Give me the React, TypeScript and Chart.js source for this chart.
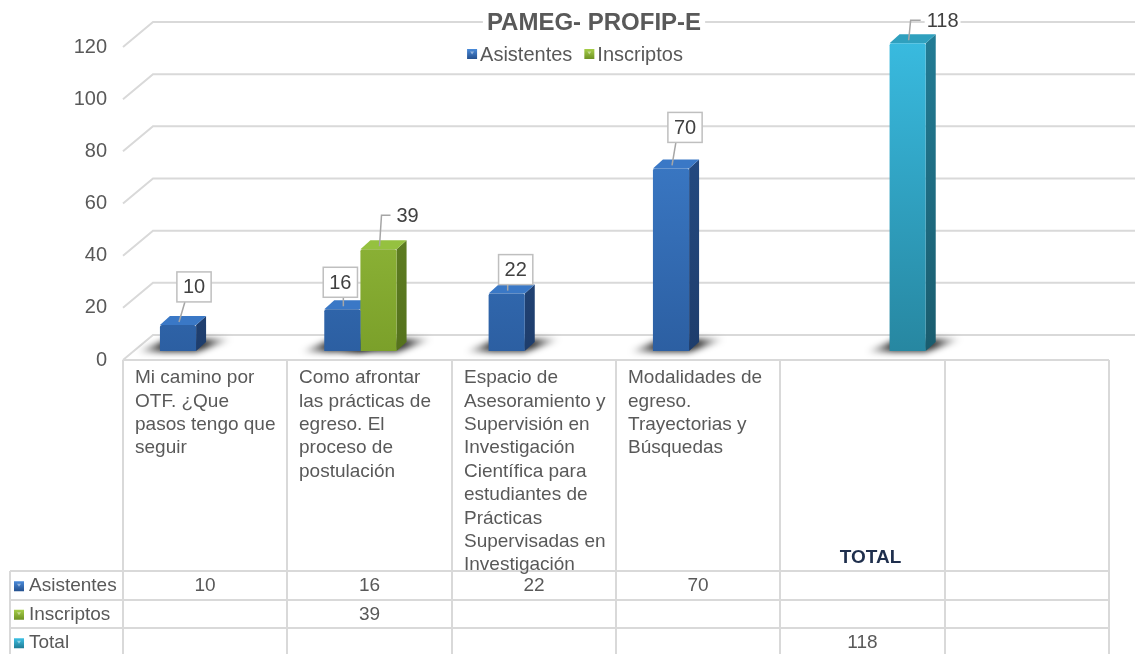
import React, { useEffect, useRef } from "react";
import { Chart, registerables } from "chart.js";

Chart.register(...registerables);

// ---------------- data ----------------
const TITLE = "PAMEG- PROFIP-E";
const SERIES_NAMES = ["Asistentes", "Inscriptos", "Total"];
const CATEGORIES: string[][] = [
  ["Mi camino por", "OTF. ¿Que", "pasos tengo que", "seguir"],
  ["Como afrontar", "las prácticas de", "egreso. El", "proceso de", "postulación"],
  [
    "Espacio de",
    "Asesoramiento y",
    "Supervisión en",
    "Investigación",
    "Científica para",
    "estudiantes de",
    "Prácticas",
    "Supervisadas en",
    "Investigación",
  ],
  ["Modalidades de", "egreso.", "Trayectorias y", "Búsquedas"],
  ["TOTAL"],
  [""],
];
const ASISTENTES: (number | null)[] = [10, 16, 22, 70, null, null];
const INSCRIPTOS: (number | null)[] = [null, 39, null, null, null, null];
const TOTAL: (number | null)[] = [null, null, null, null, 118, null];
const Y_TICKS = [0, 20, 40, 60, 80, 100, 120];

// ---------------- styling / layout ----------------
const W = 1135;
const H = 654;
const FONT = "'Liberation Sans', Arial, sans-serif";
const TEXT = "#595959";
const GRID = "#D9D9D9";

const PALETTE = [
  { front: ["#4286D7", "#2C5FA2"], side: ["#27518C", "#1E3D6C"], top: "#3A78C6", key: ["#4A8BDA", "#24508E"] },
  { front: ["#A7D04A", "#7BA02A"], side: ["#6B8E28", "#55721D"], top: "#95C140", key: ["#A6CE48", "#6E9224"] },
  { front: ["#39BBE0", "#2787A1"], side: ["#227B94", "#1A5C6E"], top: "#2FA0BE", key: ["#3CC0E4", "#217C95"] },
];

// data-label placement relative to the top of each bar
const LABEL_POS: Record<string, { dx: number; dy: number; boxed: boolean }> = {
  "0-0": { dx: 16, dy: -38, boxed: true },
  "0-1": { dx: -2, dy: -27, boxed: true },
  "0-2": { dx: 9, dy: -24, boxed: true },
  "0-3": { dx: 14, dy: -41, boxed: true },
  "1-1": { dx: 18, dy: -34, boxed: false },
  "2-4": { dx: 19, dy: -23, boxed: false },
};

const PLOT = { left: 132, right: 1118, top: 38, bottom: 351 };
const SHIFT_X = 9; // bars sit this far right of the floor's front edge
const FRONT_DY = 9; // floor front edge below the bar base
const BACK_DX = 30;
const BACK_DY = -16;
const BAR_DX = 10;
const BAR_DY = -9;
const LINE_H = 23.4;
const ROW_H = 28.5;
const KEY_LEFT = 10;

function frontFill(d: number) {
  return (c: any) => {
    const area = c.chart.chartArea;
    if (!area) return PALETTE[d].front[1];
    const g = c.chart.ctx.createLinearGradient(0, area.top, 0, area.bottom);
    g.addColorStop(0, PALETTE[d].front[0]);
    g.addColorStop(1, PALETTE[d].front[1]);
    return g;
  };
}

function keySquare(ctx: CanvasRenderingContext2D, x: number, y: number, d: number) {
  const s = 10;
  const g = ctx.createLinearGradient(0, y - s / 2, 0, y + s / 2);
  g.addColorStop(0, PALETTE[d].key[0]);
  g.addColorStop(1, PALETTE[d].key[1]);
  ctx.fillStyle = g;
  ctx.fillRect(x, y - s / 2, s, s);
  ctx.fillStyle = "rgba(255,255,255,0.45)";
  ctx.beginPath();
  ctx.moveTo(x + 3, y - 2.5);
  ctx.lineTo(x + 7, y - 2.5);
  ctx.lineTo(x + 5, y + 0.5);
  ctx.closePath();
  ctx.fill();
}

const threeD = {
  id: "threeD",
  beforeDatasetsDraw(chart: any) {
    const ctx: CanvasRenderingContext2D = chart.ctx;
    const xs = chart.scales.x;
    const ys = chart.scales.y;
    const floorLeft = xs.left - SHIFT_X;
    const floorRight = xs.right - SHIFT_X;
    const backLeft = floorLeft + BACK_DX;

    ctx.save();
    // back wall grid lines + side wall diagonals
    ctx.strokeStyle = GRID;
    ctx.lineWidth = 2;
    Y_TICKS.forEach((v) => {
      const py = ys.getPixelForValue(v);
      ctx.beginPath();
      ctx.moveTo(floorLeft, py + FRONT_DY);
      ctx.lineTo(backLeft, py + BACK_DY);
      ctx.lineTo(W, py + BACK_DY);
      ctx.stroke();
    });
    // floor front edge
    const base = ys.getPixelForValue(0);
    ctx.beginPath();
    ctx.moveTo(floorLeft, base + FRONT_DY);
    ctx.lineTo(floorRight, base + FRONT_DY);
    ctx.stroke();

    // y tick labels
    ctx.fillStyle = TEXT;
    ctx.font = `20px ${FONT}`;
    ctx.textAlign = "right";
    ctx.textBaseline = "middle";
    Y_TICKS.forEach((v) => {
      ctx.fillText(String(v), floorLeft - 16, ys.getPixelForValue(v) + FRONT_DY);
    });

    // shadows on the floor
    chart.data.datasets.forEach((ds: any, d: number) => {
      const meta = chart.getDatasetMeta(d);
      meta.data.forEach((el: any, i: number) => {
        if (ds.data[i] == null) return;
        const l = el.x - el.width / 2;
        const r = el.x + el.width / 2;
        const b = el.base;
        const x0 = l - 24;
        const x1 = r + BAR_DX + 26;
        const g = ctx.createLinearGradient(x0, 0, x1, 0);
        g.addColorStop(0, "rgba(0,0,0,0)");
        g.addColorStop(0.28, "rgba(0,0,0,0.8)");
        g.addColorStop(0.72, "rgba(0,0,0,0.8)");
        g.addColorStop(1, "rgba(0,0,0,0)");
        ctx.save();
        ctx.filter = "blur(3px)";
        ctx.fillStyle = g;
        ctx.beginPath();
        ctx.moveTo(x0, b + 1);
        ctx.lineTo(r, b + 1);
        ctx.lineTo(x1, b - 12);
        ctx.lineTo(l + 8, b - 12);
        ctx.closePath();
        ctx.fill();
        ctx.restore();
      });
    });

    // side and top faces
    chart.data.datasets.forEach((ds: any, d: number) => {
      const meta = chart.getDatasetMeta(d);
      meta.data.forEach((el: any, i: number) => {
        if (ds.data[i] == null) return;
        const l = el.x - el.width / 2;
        const r = el.x + el.width / 2;
        const t = el.y;
        const b = el.base;
        const sg = ctx.createLinearGradient(0, ys.top, 0, ys.bottom);
        sg.addColorStop(0, PALETTE[d].side[0]);
        sg.addColorStop(1, PALETTE[d].side[1]);
        ctx.fillStyle = sg;
        ctx.beginPath();
        ctx.moveTo(r, t);
        ctx.lineTo(r + BAR_DX, t + BAR_DY);
        ctx.lineTo(r + BAR_DX, b + BAR_DY);
        ctx.lineTo(r, b);
        ctx.closePath();
        ctx.fill();
        ctx.fillStyle = PALETTE[d].top;
        ctx.beginPath();
        ctx.moveTo(l, t);
        ctx.lineTo(l + BAR_DX, t + BAR_DY);
        ctx.lineTo(r + BAR_DX, t + BAR_DY);
        ctx.lineTo(r, t);
        ctx.closePath();
        ctx.fill();
      });
    });
    ctx.restore();
  },
  afterDatasetsDraw(chart: any) {
    const ctx: CanvasRenderingContext2D = chart.ctx;
    ctx.save();
    ctx.font = `20px ${FONT}`;
    ctx.textBaseline = "middle";
    chart.data.datasets.forEach((ds: any, d: number) => {
      const meta = chart.getDatasetMeta(d);
      meta.data.forEach((el: any, i: number) => {
        const v = ds.data[i];
        if (v == null) return;
        const pos = LABEL_POS[`${d}-${i}`] || { dx: 0, dy: -30, boxed: true };
        const sx = el.x + 1;
        const sy = el.y - 3;
        const txt = String(v);
        const tw = ctx.measureText(txt).width;
        ctx.strokeStyle = "#A6A6A6";
        ctx.lineWidth = 1.5;
        if (pos.boxed) {
          const cx = el.x + pos.dx;
          const cy = el.y + pos.dy;
          const bw = tw + 12;
          const bh = 30;
          const ex = Math.min(Math.max(sx, cx - bw / 2 + 8), cx + bw / 2 - 8);
          ctx.beginPath();
          ctx.moveTo(sx, sy);
          ctx.lineTo(ex, cy + bh / 2);
          ctx.stroke();
          ctx.fillStyle = "#FFFFFF";
          ctx.fillRect(cx - bw / 2, cy - bh / 2, bw, bh);
          ctx.strokeStyle = "#BFBFBF";
          ctx.strokeRect(cx - bw / 2, cy - bh / 2, bw, bh);
          ctx.fillStyle = "#404040";
          ctx.textAlign = "center";
          ctx.fillText(txt, cx, cy + 1);
        } else {
          const tx = el.x + pos.dx;
          const ty = el.y + pos.dy;
          ctx.fillStyle = "#FFFFFF";
          ctx.fillRect(tx - 2, ty - 11, tw + 4, 22);
          ctx.beginPath();
          ctx.moveTo(sx, sy);
          ctx.lineTo(sx + 2, ty);
          ctx.lineTo(tx - 6, ty);
          ctx.stroke();
          ctx.fillStyle = "#404040";
          ctx.textAlign = "left";
          ctx.fillText(txt, tx, ty + 1);
        }
      });
    });
    ctx.restore();
  },
  afterDraw(chart: any) {
    const ctx: CanvasRenderingContext2D = chart.ctx;
    const xs = chart.scales.x;
    const ys = chart.scales.y;
    const n = chart.data.labels.length;
    const colW = (xs.right - xs.left) / n;
    const floorLeft = xs.left - SHIFT_X;
    ctx.save();

    // title
    ctx.font = `bold 24px ${FONT}`;
    const tW = ctx.measureText(TITLE).width;
    const tX = 594;
    const tY = 22;
    ctx.fillStyle = "#FFFFFF";
    ctx.fillRect(tX - tW / 2 - 4, tY - 13, tW + 8, 26);
    ctx.fillStyle = TEXT;
    ctx.textAlign = "center";
    ctx.textBaseline = "middle";
    ctx.fillText(TITLE, tX, tY + 1);

    // legend
    ctx.font = `20px ${FONT}`;
    const legendItems = chart.data.datasets
      .map((ds: any, d: number) => ({ d, label: ds.label, show: ds.inLegend }))
      .filter((it: any) => it.show);
    const widths = legendItems.map((it: any) => 13 + ctx.measureText(it.label).width);
    const gap = 12;
    const totalW = widths.reduce((a: number, b: number) => a + b, 0) + gap * (widths.length - 1);
    let lx = 575 - totalW / 2;
    const ly = 54;
    ctx.textAlign = "left";
    legendItems.forEach((it: any, k: number) => {
      keySquare(ctx, lx, ly, it.d);
      ctx.fillStyle = TEXT;
      ctx.fillText(it.label, lx + 13, ly + 1);
      lx += widths[k] + gap;
    });

    // data table
    const catTop = Math.round(ys.getPixelForValue(0) + FRONT_DY);
    const maxLines = Math.max(...CATEGORIES.map((c) => c.length));
    const catBottom = Math.round(catTop + maxLines * LINE_H + 0.5);
    const rows = chart.data.datasets.length;
    const bounds: number[] = [];
    for (let i = 0; i <= n; i++) bounds.push(Math.round(floorLeft + i * colW));
    ctx.strokeStyle = GRID;
    ctx.lineWidth = 2;
    ctx.beginPath();
    ctx.moveTo(bounds[0], catTop);
    ctx.lineTo(bounds[n], catTop);
    for (let r = 0; r <= rows; r++) {
      const yy = Math.round(catBottom + r * ROW_H);
      ctx.moveTo(KEY_LEFT, yy);
      ctx.lineTo(bounds[n], yy);
    }
    bounds.forEach((bx) => {
      ctx.moveTo(bx, catTop);
      ctx.lineTo(bx, H);
    });
    ctx.moveTo(KEY_LEFT, catBottom);
    ctx.lineTo(KEY_LEFT, H);
    ctx.stroke();

    // category labels
    ctx.textBaseline = "middle";
    CATEGORIES.forEach((lines, i) => {
      if (lines.length === 1 && lines[0] === "TOTAL") {
        ctx.font = `bold 19px ${FONT}`;
        ctx.fillStyle = "#1F2F4D";
        ctx.textAlign = "center";
        ctx.fillText(lines[0], (bounds[i] + bounds[i + 1]) / 2 + 8, catBottom - 13);
        return;
      }
      ctx.font = `19px ${FONT}`;
      ctx.fillStyle = TEXT;
      ctx.textAlign = "left";
      lines.forEach((ln, k) => {
        ctx.fillText(ln, bounds[i] + 12, catTop + 18 + k * LINE_H);
      });
    });

    // series rows
    ctx.font = `19px ${FONT}`;
    chart.data.datasets.forEach((ds: any, d: number) => {
      const my = catBottom + d * ROW_H + ROW_H / 2 + 1;
      keySquare(ctx, KEY_LEFT + 4, my, d);
      ctx.fillStyle = TEXT;
      ctx.textAlign = "left";
      ctx.fillText(ds.label, KEY_LEFT + 19, my);
      ctx.textAlign = "center";
      ds.data.forEach((v: any, i: number) => {
        if (v == null) return;
        ctx.fillText(String(v), (bounds[i] + bounds[i + 1]) / 2, my);
      });
    });
    ctx.restore();
  },
};

export default function App() {
  const ref = useRef<HTMLCanvasElement | null>(null);
  useEffect(() => {
    if (!ref.current) return;
    const chart = new Chart(ref.current, {
      type: "bar",
      data: {
        labels: CATEGORIES,
        datasets: [
          { label: SERIES_NAMES[0], data: ASISTENTES, backgroundColor: frontFill(0), inLegend: true } as any,
          { label: SERIES_NAMES[1], data: INSCRIPTOS, backgroundColor: frontFill(1), inLegend: true } as any,
          { label: SERIES_NAMES[2], data: TOTAL, backgroundColor: frontFill(2), inLegend: false } as any,
        ],
      },
      options: {
        responsive: false,
        animation: false,
        devicePixelRatio: 1,
        layout: {
          padding: { left: PLOT.left, right: W - PLOT.right, top: PLOT.top, bottom: H - PLOT.bottom },
        },
        datasets: {
          bar: {
            categoryPercentage: 0.66,
            barPercentage: 1,
            borderWidth: 0,
            borderRadius: { topLeft: 2, topRight: 2, bottomLeft: 0, bottomRight: 0 },
            borderSkipped: false,
          },
        },
        plugins: {
          legend: { display: false },
          title: { display: false },
          tooltip: { enabled: false },
        },
        scales: {
          x: { display: false },
          y: { display: false, min: 0, max: 120, ticks: { stepSize: 20 } },
        },
      } as any,
      plugins: [threeD],
    });
    return () => chart.destroy();
  }, []);
  return (
    <div style={{ position: "absolute", left: 0, top: 0, width: W, height: H, background: "#FFFFFF" }}>
      <canvas ref={ref} width={W} height={H} style={{ display: "block", width: W, height: H }} />
    </div>
  );
}
